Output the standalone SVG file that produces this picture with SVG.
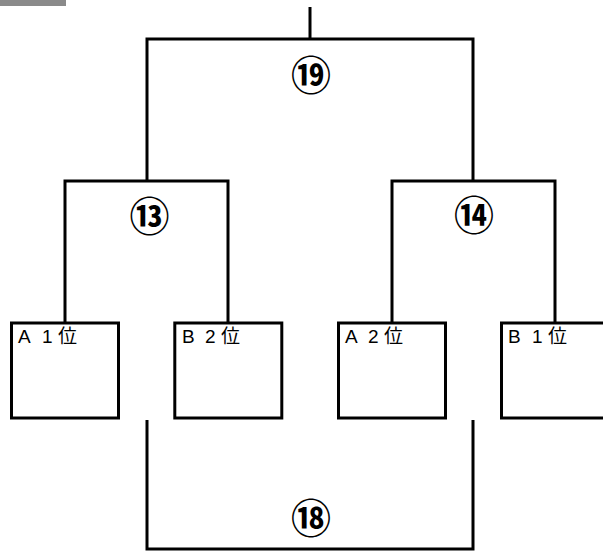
<svg xmlns="http://www.w3.org/2000/svg" width="603" height="552" viewBox="0 0 603 552">
<style>
.ln{fill:none;stroke:#000;stroke-width:3;stroke-linecap:butt;stroke-linejoin:miter}
.box{fill:#fff;stroke:#000;stroke-width:3}
.lbl{font-family:"Liberation Sans","Noto Sans CJK JP",sans-serif;font-size:19px;fill:#000}
.num{font-family:"Noto Sans CJK JP",sans-serif;font-size:40px;font-weight:bold;fill:#000;text-anchor:middle;dominant-baseline:central}
</style>
<rect x="0" y="0" width="66" height="6" fill="#8a8a8a"/>
<g id="connectors">
<path class="ln" d="M310,7 V39"/>
<path class="ln" d="M147,181 V39 H473 V181"/>
<path class="ln" d="M65,322 V181 H228 V322"/>
<path class="ln" d="M392,322 V181 H555 V322"/>
<path class="ln" d="M147,420 V549 H473 V420"/>
</g>
<g id="m19"><text class="num" x="311" y="73">⑲</text></g>
<g id="m13"><text class="num" x="149.5" y="213.5">⑬</text></g>
<g id="m14"><text class="num" x="474" y="213">⑭</text></g>
<g id="m18"><text class="num" x="311" y="516">⑱</text></g>
<g id="a1"><rect class="box" x="11.5" y="323" width="107" height="95"/><text class="lbl" x="18 31 42 58" y="343">A 1位</text></g>
<g id="b2"><rect class="box" x="174.8" y="323" width="107" height="95"/><text class="lbl" x="182 195 205 221" y="343">B 2位</text></g>
<g id="a2"><rect class="box" x="338.5" y="323" width="107" height="95"/><text class="lbl" x="345 358 368 384" y="343">A 2位</text></g>
<g id="b1"><rect class="box" x="501.5" y="323" width="108" height="95"/><text class="lbl" x="508 521 532 548" y="343">B 1位</text></g>
</svg>
